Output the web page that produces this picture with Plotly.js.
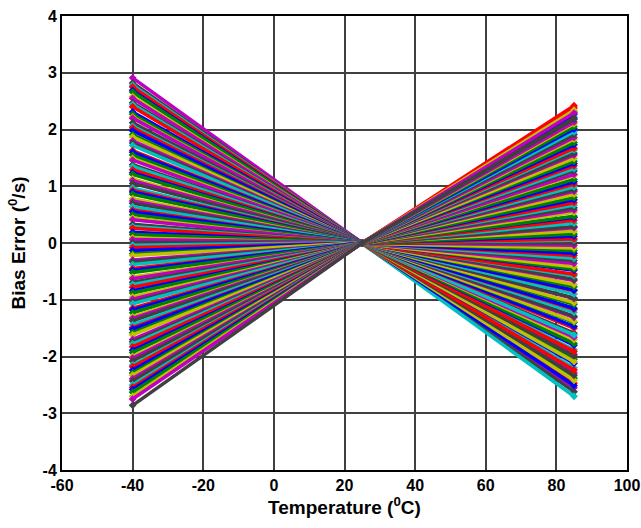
<!DOCTYPE html>
<html>
<head>
<meta charset="utf-8">
<script src="https://cdn.plot.ly/plotly-3.0.1.min.js"></script>
<style>html,body{margin:0;padding:0;background:#fff;}#chart{width:641px;height:528px;}</style>
</head>
<body>
<div id="chart"></div>
<script>
// Temperatures at which each unit was measured
const temperatures = [-40, 25, 85];

// Bias error (deg/s) of each unit at -40 C
const biasAtMinus40 = [
  2.91, 2.82, 2.78, 2.75, 2.69, 2.66, 2.58, 2.55, 2.47, 2.44,
  2.40, 2.31, 2.27, 2.22, 2.20, 2.12, 2.06, 2.03, 1.98, 1.91,
  1.87, 1.80, 1.76, 1.72, 1.63, 1.60, 1.55, 1.49, 1.46, 1.38,
  1.35, 1.29, 1.24, 1.21, 1.13, 1.10, 1.05, 0.97, 0.93, 0.90,
  0.86, 0.78, 0.74, 0.70, 0.64, 0.58, 0.55, 0.50, 0.44, 0.41,
  0.33, 0.29, 0.26, 0.19, 0.15, 0.09, 0.06, 0.01, -0.04, -0.08,
  -0.13, -0.19, -0.22, -0.30, -0.33, -0.38, -0.45, -0.48, -0.52, -0.60,
  -0.63, -0.69, -0.73, -0.78, -0.84, -0.88, -0.95, -0.99, -1.04, -1.07,
  -1.15, -1.18, -1.23, -1.30, -1.33, -1.37, -1.44, -1.49, -1.52, -1.58,
  -1.62, -1.70, -1.74, -1.78, -1.83, -1.89, -1.93, -2.00, -2.03, -2.08,
  -2.15, -2.18, -2.24, -2.29, -2.33, -2.39, -2.43, -2.50, -2.54, -2.58,
  -2.63, -2.70, -2.75, -2.86
];

// Bias error (deg/s) of each unit at 25 C (calibration point)
const biasAt25 = biasAtMinus40.map(() => 0);

// Bias error (deg/s) of each unit at 85 C
const biasAt85 = [
  -2.55, -2.62, -2.70, -2.47, -2.51, -2.38, -2.42, -2.29, -2.33, -2.20,
  -2.24, -2.12, -2.05, -2.09, -1.96, -1.99, -1.88, -1.91, -1.80, -1.77,
  -1.70, -1.66, -1.59, -1.62, -1.50, -1.47, -1.40, -1.38, -1.31, -1.29,
  -1.22, -1.17, -1.15, -1.08, -1.05, -0.98, -0.97, -0.90, -0.84, -0.83,
  -0.77, -0.73, -0.66, -0.64, -0.58, -0.55, -0.48, -0.46, -0.42, -0.36,
  -0.31, -0.27, -0.22, -0.18, -0.13, -0.09, -0.04, 0.00, 0.05, 0.07,
  0.12, 0.16, 0.21, 0.27, 0.29, 0.35, 0.40, 0.45, 0.47, 0.54,
  0.58, 0.62, 0.67, 0.71, 0.76, 0.80, 0.86, 0.91, 0.94, 0.99,
  1.04, 1.08, 1.12, 1.19, 1.21, 1.27, 1.31, 1.36, 1.40, 1.44,
  1.49, 1.55, 1.58, 1.64, 1.67, 1.73, 1.77, 1.83, 1.86, 1.91,
  1.96, 2.38, 2.01, 2.05, 2.10, 2.13, 2.18, 2.22, 2.42, 2.27,
  2.31, 2.34, 2.29, 2.20
];

// Axis tick values and labels (hyphen minus as in the reference)
const xTickValues = [-60, -40, -20, 0, 20, 40, 60, 80, 100];
const xTickLabels = ['-60', '-40', '-20', '0', '20', '40', '60', '80', '100'];
const yTickValues = [-4, -3, -2, -1, 0, 1, 2, 3, 4];
const yTickLabels = ['-4', '-3', '-2', '-1', '0', '1', '2', '3', '4'];

const palette = ['#c000c0', '#404040', '#00c0c0', '#ff0000', '#0000ff', '#008000', '#c0c000'];

const traces = biasAtMinus40.map((v, i) => ({
  type: 'scatter',
  mode: 'lines+markers',
  x: temperatures,
  y: [v, biasAt25[i], biasAt85[i]],
  line: {color: palette[i % palette.length], width: 3.5},
  marker: {color: palette[i % palette.length], size: 6, symbol: 'diamond'},
  hoverinfo: 'x+y',
  showlegend: false
}));

const font = {family: 'Arial, "Liberation Sans", sans-serif', color: '#000'};

const layout = {
  width: 641, height: 528,
  margin: {l: 62, r: 14, t: 16, b: 58},
  paper_bgcolor: '#fff', plot_bgcolor: '#fff',
  showlegend: false,
  xaxis: {
    range: [-60, 100], tickmode: 'array', tickvals: xTickValues, ticktext: xTickLabels,
    showgrid: true, gridcolor: '#404040', gridwidth: 2,
    zeroline: false,
    showline: true, linecolor: '#000', linewidth: 2, mirror: true,
    ticks: '', ticklen: 0,
    tickfont: Object.assign({size: 16, weight: 'bold'}, font),
    title: {text: 'Temperature (<sup>0</sup>C)', font: Object.assign({size: 19, weight: 'bold'}, font), standoff: 6}
  },
  yaxis: {
    range: [-4, 4], tickmode: 'array', tickvals: yTickValues, ticktext: yTickLabels,
    showgrid: true, gridcolor: '#404040', gridwidth: 2,
    zeroline: false,
    showline: true, linecolor: '#000', linewidth: 2, mirror: true,
    ticks: '', ticklen: 0,
    tickfont: Object.assign({size: 16, weight: 'bold'}, font),
    title: {text: 'Bias Error (<sup>0</sup>/s)', font: Object.assign({size: 19, weight: 'bold'}, font), standoff: 12}
  }
};

Plotly.newPlot('chart', traces, layout, {displayModeBar: false, staticPlot: true});
</script>
</body>
</html>
